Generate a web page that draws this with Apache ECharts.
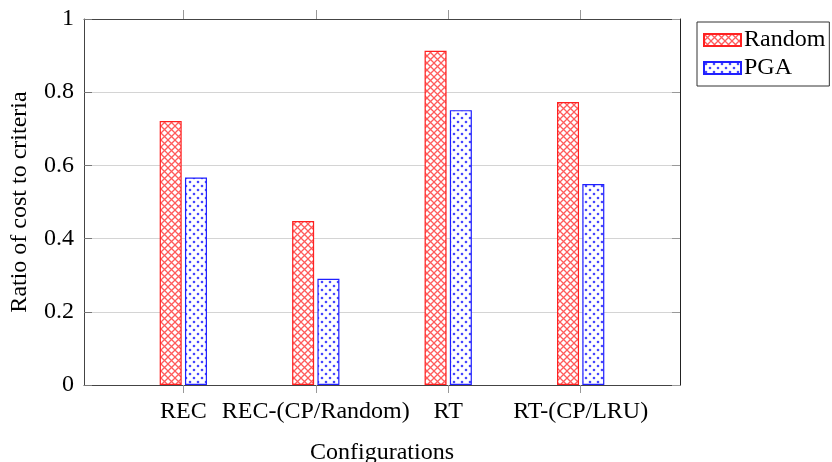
<!DOCTYPE html>
<html>
<head>
<meta charset="utf-8">
<script src="https://cdn.jsdelivr.net/npm/echarts@6/dist/echarts.min.js"></script>
<style>
html,body{margin:0;padding:0;background:#fff;}
#chart{width:832px;height:462px;}
</style>
</head>
<body>
<div id="chart"></div>
<script>
var categories = ['REC', 'REC-(CP/Random)', 'RT', 'RT-(CP/LRU)'];
var randomValues = [0.721, 0.448, 0.913, 0.773];
var pgaValues = [0.567, 0.290, 0.751, 0.549];
var yTicks = [0, 0.2, 0.4, 0.6, 0.8, 1];
var seriesNames = ['Random', 'PGA'];

var FONT = '"Liberation Serif", "DejaVu Serif", serif';
var FS = 24;

function crossPattern() {
  var c = document.createElement('canvas');
  c.width = 7; c.height = 7;
  var g = c.getContext('2d');
  g.fillStyle = '#fff'; g.fillRect(0, 0, 7, 7);
  g.strokeStyle = 'rgba(255,50,50,0.8)';
  g.lineWidth = 1.3;
  g.beginPath();
  g.moveTo(-1, -1); g.lineTo(8, 8);
  g.moveTo(-1, 8); g.lineTo(8, -1);
  g.stroke();
  return c;
}
function dotPattern() {
  var c = document.createElement('canvas');
  c.width = 8; c.height = 8;
  var g = c.getContext('2d');
  g.fillStyle = '#fff'; g.fillRect(0, 0, 8, 8);
  g.fillStyle = 'rgba(50,50,255,0.9)';
  g.beginPath(); g.arc(2, 2, 1.3, 0, Math.PI * 2); g.fill();
  g.beginPath(); g.arc(6, 6, 1.3, 0, Math.PI * 2); g.fill();
  return c;
}

var chart = echarts.init(document.getElementById('chart'), null, {renderer: 'canvas'});

var xMin = -0.75, xMax = 3.75;
var catIdx = categories.map(function (c, i) { return i; });

var option = {
  backgroundColor: '#fff',
  animation: false,
  textStyle: {fontFamily: FONT, color: '#000'},
  grid: {left: 84, right: 152, top: 19, bottom: 77, containLabel: false, outerBoundsMode: 'none'},
  legend: {
    orient: 'vertical',
    left: 697, top: 22,
    data: seriesNames,
    itemWidth: 37, itemHeight: 12,
    itemGap: 4,
    padding: [6, 4, 6, 6],
    borderColor: '#333', borderWidth: 1,
    textStyle: {fontFamily: FONT, fontSize: FS, color: '#000', padding: [0, 0, 0, -2]},
    icon: 'rect'
  },
  xAxis: [{
    type: 'value', position: 'bottom', min: xMin, max: xMax,
    name: 'Configurations', nameLocation: 'middle', nameGap: 56,
    nameTextStyle: {fontFamily: FONT, fontSize: FS, color: '#000'},
    axisLine: {show: true, onZero: false, lineStyle: {color: '#444', width: 1}},
    axisTick: {show: true, inside: false, length: 8, lineStyle: {color: '#999'}, customValues: catIdx},
    axisLabel: {
      customValues: catIdx, margin: 15, fontFamily: FONT, fontSize: FS, color: '#000',
      formatter: function (v) { return categories[Math.round(v)] || ''; }
    },
    splitLine: {show: false}
  }, {
    type: 'value', position: 'top', min: xMin, max: xMax,
    axisLine: {show: true, onZero: false, lineStyle: {color: '#444', width: 1}},
    axisTick: {show: true, inside: false, length: 9, lineStyle: {color: '#999'}, customValues: catIdx},
    axisLabel: {show: false},
    splitLine: {show: false}
  }],
  yAxis: [{
    type: 'value', min: 0, max: 1, interval: 0.2, position: 'left',
    name: 'Ratio of cost to criteria', nameLocation: 'middle', nameGap: 52,
    nameTextStyle: {fontFamily: FONT, fontSize: FS, color: '#000'},
    axisLine: {show: true, onZero: false, lineStyle: {color: '#444', width: 1}},
    axisTick: {show: true, inside: true, length: 8, lineStyle: {color: '#777'}},
    axisLabel: {
      margin: 10, fontFamily: FONT, fontSize: FS, color: '#000',
      formatter: function (v) { return String(+v.toFixed(1)); }
    },
    splitLine: {show: true, lineStyle: {color: '#d4d4d4', width: 1}}
  }, {
    type: 'value', min: 0, max: 1, interval: 0.2, position: 'right',
    axisLine: {show: true, onZero: false, lineStyle: {color: '#222', width: 1}},
    axisTick: {show: true, inside: true, length: 8, lineStyle: {color: '#999'}},
    axisLabel: {show: false},
    splitLine: {show: false}
  }],
  series: [{
    name: seriesNames[0], type: 'bar', xAxisIndex: 0, yAxisIndex: 0,
    barWidth: 22, barGap: '15%',
    itemStyle: {color: {image: crossPattern(), repeat: 'repeat'}, borderColor: '#ff2020', borderWidth: 1.2},
    data: randomValues.map(function (v, i) { return [i, v]; })
  }, {
    name: seriesNames[1], type: 'bar', xAxisIndex: 0, yAxisIndex: 0,
    barWidth: 22, barGap: '15%',
    itemStyle: {color: {image: dotPattern(), repeat: 'repeat'}, borderColor: '#2020ff', borderWidth: 1.2},
    data: pgaValues.map(function (v, i) { return [i, v]; })
  }]
};
chart.setOption(option);
</script>
</body>
</html>
